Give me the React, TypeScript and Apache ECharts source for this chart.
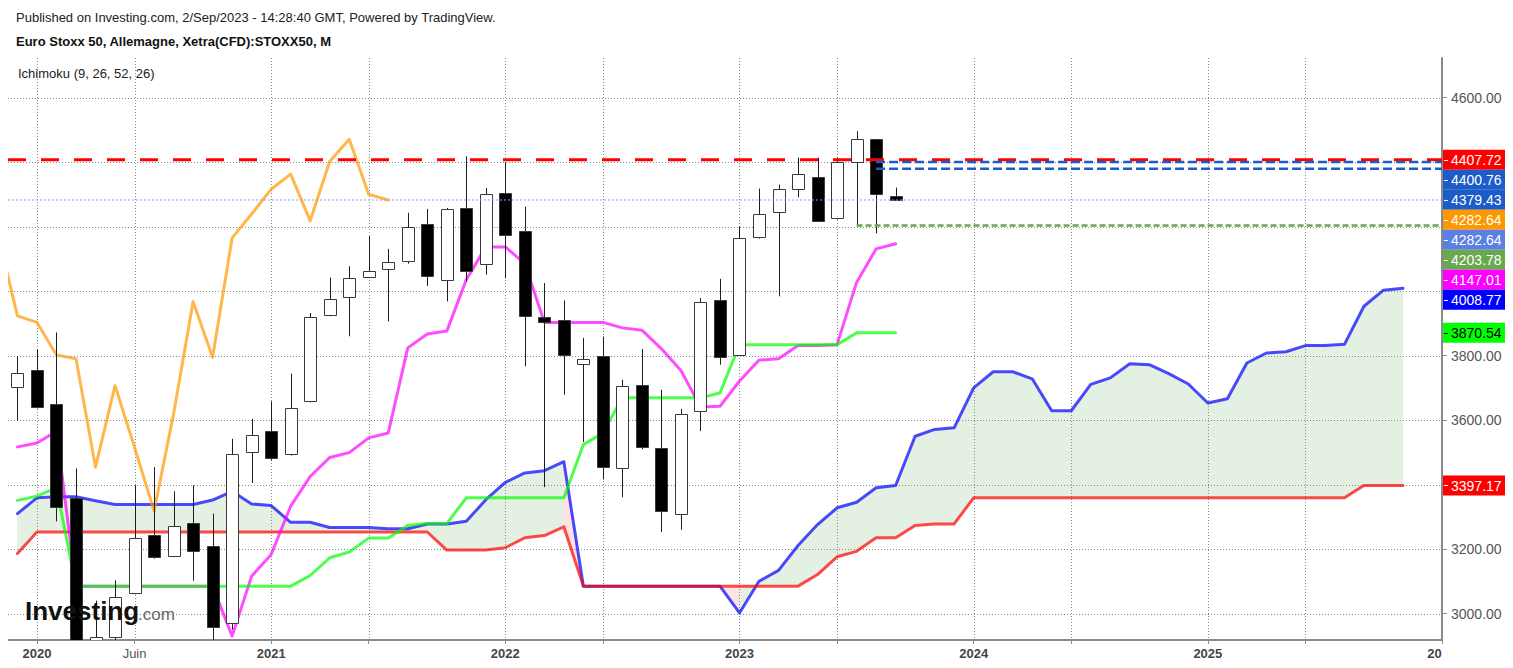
import React, { useEffect, useRef } from 'react';
import * as echarts from 'echarts';

// ---------- data (month index 0 = Dec 2019, 1 = Jan 2020, ... 73 = Jan 2026) ----------
const FIRST_MONTH = '2019-12';

const OPEN = [3704, 3755, 3650, 3357, 2787, 2928, 3064, 3243, 3180, 3281, 3209, 2971, 3502, 3567, 3494, 3660, 3926, 3983, 4044, 4068, 4094, 4207, 4036, 4258, 4083, 4305, 4185, 3921, 3910, 3774, 3800, 3450, 3708, 3514, 3308, 3629, 3971, 3803, 4168, 4246, 4316, 4355, 4226, 4402, 4471, 4296];
const HIGH = [3798, 3819, 3872, 3450, 3040, 3103, 3398, 3454, 3379, 3398, 3310, 3542, 3604, 3658, 3744, 3932, 4042, 4077, 4170, 4131, 4243, 4255, 4258, 4418, 4320, 4400, 4262, 4025, 3971, 3855, 3859, 3725, 3821, 3694, 3635, 3978, 4038, 4201, 4318, 4330, 4414, 4414, 4414, 4496, 4472, 4321];
const LOW = [3598, 3636, 3286, 2302, 2651, 2794, 3060, 3170, 3175, 3102, 2867, 2950, 3405, 3475, 3490, 3655, 3922, 3860, 4040, 3906, 4085, 4016, 3968, 4030, 4051, 4040, 3767, 3392, 3679, 3532, 3416, 3361, 3510, 3253, 3260, 3566, 3772, 3800, 4163, 3984, 4291, 4214, 4222, 4203, 4179, 4282];
const CLOSE = [3746, 3640, 3330, 2787, 2928, 3052, 3235, 3176, 3273, 3194, 2958, 3494, 3553, 3481, 3638, 3921, 3977, 4041, 4063, 4091, 4199, 4048, 4254, 4063, 4301, 4175, 3923, 3903, 3802, 3790, 3454, 3707, 3516, 3318, 3619, 3967, 3795, 4165, 4239, 4316, 4363, 4218, 4402, 4471, 4300, 4282.64];

// Ichimoku (9, 26, 52, 26) lines
const TENKAN_START = 0;
const TENKAN = [3517, 3529, 3565, 3085, 3085, 3085, 3085, 3085, 3085, 3085, 3085, 2930, 3116, 3183, 3333, 3425, 3484, 3499, 3545, 3560, 3824, 3867, 3876, 4035, 4137, 4137, 4085, 3903, 3903, 3903, 3903, 3886, 3879, 3821, 3754, 3641, 3643, 3721, 3786, 3790, 3831, 3831, 3834, 4027, 4131, 4147.01];
const KIJUN_START = 0;
const KIJUN = [3351, 3364, 3390, 3085, 3085, 3085, 3085, 3085, 3085, 3085, 3085, 3085, 3085, 3085, 3085, 3118, 3173, 3191, 3234, 3234, 3273, 3279, 3279, 3359, 3359, 3359, 3359, 3359, 3359, 3524, 3560, 3669, 3669, 3669, 3669, 3669, 3684, 3834, 3834, 3834, 3834, 3834, 3834, 3870.54, 3870.54, 3870.54];
const CHIKOU_START = -1;
const CHIKOU = [4175, 3923, 3903, 3802, 3790, 3454, 3707, 3516, 3318, 3619, 3967, 3795, 4165, 4239, 4316, 4363, 4218, 4402, 4471, 4300, 4282.64];
const SPAN_START = 0;
const SPAN_A = [3310, 3359, 3362, 3362, 3350, 3338, 3338, 3338, 3338, 3338, 3352, 3379, 3340, 3335, 3283, 3283, 3267, 3267, 3267, 3263, 3263, 3278, 3278, 3286, 3353, 3407, 3436, 3443, 3471, 3085, 3085, 3085, 3085, 3085, 3085, 3085, 3085, 3002, 3100, 3134, 3211, 3276, 3328, 3345, 3390, 3397, 3550, 3571, 3576, 3700, 3750, 3750, 3728, 3629, 3629, 3711, 3731, 3775, 3772, 3744, 3712, 3653, 3666, 3777, 3808, 3812, 3831, 3831, 3835, 3953, 4003, 4008.77];
const SPAN_B = [3186, 3253, 3253, 3253, 3253, 3253, 3253, 3253, 3253, 3253, 3253, 3253, 3253, 3253, 3253, 3253, 3253, 3253, 3253, 3253, 3253, 3253, 3197, 3197, 3197, 3204, 3235, 3242, 3269, 3085, 3085, 3085, 3085, 3085, 3085, 3085, 3085, 3085, 3085, 3085, 3085, 3121, 3176, 3193, 3235, 3235, 3273, 3278, 3278, 3359, 3359, 3359, 3359, 3359, 3359, 3359, 3359, 3359, 3359, 3359, 3359, 3359, 3359, 3359, 3359, 3359, 3359, 3359, 3359, 3397.17, 3397.17, 3397.17];

// horizontal levels
const LEVEL_VALUES = [4407.72, 4400.76, 4379.43, 4282.64, 4203.78];
const LEVEL_FROM = [-1, 44, 44, -1, 43]; // month index where the level starts (-1 = left edge)

// price tags on the right axis
const TAG_VALUES = [4407.72, 4400.76, 4379.43, 4282.64, 4282.64, 4203.78, 4147.01, 4008.77, 3870.54, 3397.17];

// axes
const X_TICKS = [1, 6, 13, 18, 25, 30, 37, 42, 49, 54, 61, 66, 73];
const X_TICK_LABELS = ['2020', 'Juin', '2021', '', '2022', '', '2023', '', '2024', '', '2025', '', '2026'];
const Y_TICKS = [3000, 3200, 3400, 3600, 3800, 4000, 4200, 4400, 4600];

// ---------- styles ----------
const FONT = '"Liberation Sans", Arial, Helvetica, sans-serif';
const X_MIN = -0.485;
const X_MAX = 73;
const Y_MIN = 2918;
const Y_MAX = 4723;
const LEVEL_STYLES = [
  { color: '#ff0000', width: 3, dash: [18, 15] },
  { color: '#1c5bc8', width: 2.5, dash: [9, 4] },
  { color: '#1c5bc8', width: 2.5, dash: [9, 4] },
  { color: '#89a4f2', width: 1, dash: [2, 2] },
  { color: '#6aa84f', width: 2.5, dash: [6, 3] },
];
const TAG_BG = ['#ff0000', '#1c5bc8', '#1c5bc8', '#ff9800', '#5b7fe3', '#6aa84f', '#ff00ff', '#0000ff', '#00ff00', '#ff0000'];
const TAG_FG = ['#fff', '#fff', '#fff', '#fff', '#fff', '#fff', '#fff', '#fff', '#000', '#fff'];

const seriesPoints = (arr: number[], start: number) => arr.map((v, k) => [start + k, v]);

function ichiLine(name: string, arr: number[], start: number, color: string, z: number) {
  return {
    name,
    type: 'line',
    data: seriesPoints(arr, start),
    symbol: 'none',
    silent: true,
    z,
    lineStyle: { color, width: 3, opacity: 0.7, cap: 'round', join: 'round' },
  };
}

export default function App() {
  const ref = useRef<HTMLDivElement>(null);

  useEffect(() => {
    const chart = echarts.init(ref.current as HTMLDivElement, null, { renderer: 'svg' });

    const candleData = OPEN.map((o, k) => [k, o, CLOSE[k], LOW[k], HIGH[k]]);
    const cloudData = SPAN_A.slice(0, -1).map((a, k) => [
      SPAN_START + k, a, SPAN_B[k], SPAN_START + k + 1, SPAN_A[k + 1], SPAN_B[k + 1],
    ]);

    const option: any = {
      animation: false,
      textStyle: { fontFamily: FONT },
      grid: { left: 0, top: 50, right: 64, bottom: 20, containLabel: false, outerBoundsMode: 'none' },
      xAxis: {
        type: 'value',
        min: X_MIN,
        max: X_MAX,
        position: 'bottom',
        axisLine: { show: true, onZero: false, lineStyle: { color: '#8a8a8a', width: 2 } },
        axisTick: { show: true, customValues: X_TICKS, length: 4, lineStyle: { color: '#8a8a8a' } },
        axisLabel: {
          show: true,
          customValues: X_TICKS,
          margin: 7,
          hideOverlap: false,
          formatter: (v: number) => {
            const r = Math.round(v);
            const k = X_TICKS.indexOf(r);
            const t = k >= 0 ? X_TICK_LABELS[k] : '';
            if (!t) return '';
            if (r === X_MAX) return `{cut|${t.slice(0, 2)}}`;
            return /^\d+$/.test(t) ? `{y|${t}}` : `{m|${t}}`;
          },
          rich: {
            y: { fontFamily: FONT, fontWeight: 'bold', fontSize: 13, color: '#444' },
            m: { fontFamily: FONT, fontSize: 13, color: '#555' },
            cut: { fontFamily: FONT, fontWeight: 'bold', fontSize: 13, color: '#444', padding: [0, 15, 0, 0] },
          },
        },
        splitLine: { show: false },
      },
      yAxis: {
        type: 'value',
        min: Y_MIN,
        max: Y_MAX,
        position: 'right',
        axisLine: { show: true, onZero: false, lineStyle: { color: '#8a8a8a', width: 2 } },
        axisTick: { show: true, customValues: Y_TICKS, length: 5, lineStyle: { color: '#8a8a8a' } },
        axisLabel: {
          customValues: Y_TICKS,
          margin: 9,
          color: '#555',
          fontSize: 14,
          fontFamily: FONT,
          formatter: (v: number) => v.toFixed(2),
        },
        splitLine: { show: false },
      },
      series: [
        // cloud fill
        {
          type: 'custom',
          silent: true,
          clip: true,
          z: 1,
          data: cloudData,
          encode: { x: [0, 3], y: [1, 2, 4, 5] },
          renderItem: (params: any, api: any) => {
            const i0 = api.value(0), a0 = api.value(1), b0 = api.value(2);
            const i1 = api.value(3), a1 = api.value(4), b1 = api.value(5);
            if (a0 === b0 && a1 === b1) return { type: 'group', children: [] };
            const pts = [api.coord([i0, a0]), api.coord([i1, a1]), api.coord([i1, b1]), api.coord([i0, b0])];
            const fill = a1 > b1 ? '#e3f0e2' : '#fce3e3';
            return { type: 'polygon', shape: { points: pts }, style: { fill, stroke: fill, lineWidth: 0.6 } };
          },
        },
        // horizontal grid lines
        {
          type: 'custom',
          silent: true,
          z: 2,
          data: Y_TICKS.map((v) => [X_MIN, v]),
          encode: { x: 0, y: 1 },
          renderItem: (params: any, api: any) => {
            const cs = params.coordSys;
            const y = Math.round(api.coord([api.value(0), api.value(1)])[1]) + 0.5;
            return {
              type: 'line',
              shape: { x1: cs.x, y1: y, x2: cs.x + cs.width, y2: y },
              style: { stroke: '#8c8c8c', lineWidth: 1, lineDash: [1, 2] },
            };
          },
        },
        // vertical grid lines
        {
          type: 'custom',
          silent: true,
          z: 2,
          data: X_TICKS.filter((t) => t < X_MAX).map((t) => [t, Y_MIN]),
          encode: { x: 0, y: 1 },
          renderItem: (params: any, api: any) => {
            const cs = params.coordSys;
            const x = Math.round(api.coord([api.value(0), api.value(1)])[0]) + 0.5;
            return {
              type: 'line',
              shape: { x1: x, y1: cs.y, x2: x, y2: cs.y + cs.height },
              style: { stroke: '#8c8c8c', lineWidth: 1, lineDash: [1, 2] },
            };
          },
        },
        ichiLine('Senkou A', SPAN_A, SPAN_START, '#0000ff', 3),
        ichiLine('Senkou B', SPAN_B, SPAN_START, '#ff0000', 3),
        ichiLine('Tenkan', TENKAN, TENKAN_START, '#ff00ff', 3),
        ichiLine('Kijun', KIJUN, KIJUN_START, '#00ff00', 3),
        ichiLine('Chikou', CHIKOU, CHIKOU_START, '#ff9800', 3),
        // candles
        {
          type: 'custom',
          silent: true,
          clip: true,
          z: 4,
          data: candleData,
          encode: { x: 0, y: [1, 2, 3, 4] },
          renderItem: (params: any, api: any) => {
            const i = api.value(0), o = api.value(1), c = api.value(2), l = api.value(3), h = api.value(4);
            const pO = api.coord([i, o]);
            const pC = api.coord([i, c]);
            const pL = api.coord([i, l]);
            const pH = api.coord([i, h]);
            const x = Math.round(pO[0]) + 0.5;
            const top = Math.round(Math.min(pO[1], pC[1])) + 0.5;
            const bot = Math.round(Math.max(pO[1], pC[1])) + 0.5;
            const up = c >= o;
            return {
              type: 'group',
              children: [
                { type: 'line', shape: { x1: x, y1: pH[1], x2: x, y2: pL[1] }, style: { stroke: '#1e1e1e', lineWidth: 1 } },
                {
                  type: 'rect',
                  shape: { x: x - 6, y: top, width: 12, height: Math.max(bot - top, 1) },
                  style: { fill: up ? '#ffffff' : '#000000', stroke: '#3a3a3a', lineWidth: 1 },
                },
              ],
            };
          },
        },
        // horizontal levels
        ...LEVEL_VALUES.map((v, k) => ({
          type: 'line',
          silent: true,
          symbol: 'none',
          z: 5,
          data: [[LEVEL_FROM[k] < 0 ? X_MIN : LEVEL_FROM[k], v], [X_MAX, v]],
          lineStyle: { color: LEVEL_STYLES[k].color, width: LEVEL_STYLES[k].width, type: LEVEL_STYLES[k].dash },
        })),
      ],
    };

    chart.setOption(option);

    // price tags stacked on the right axis
    const axisX = chart.convertToPixel({ xAxisIndex: 0 }, X_MAX) as number;
    const top = chart.convertToPixel({ yAxisIndex: 0 }, Y_MAX) as number;
    const W = (ref.current as HTMLDivElement).clientWidth;
    const H = (ref.current as HTMLDivElement).clientHeight;
    let prev = -1e9;
    const tagEls: any[] = [];
    const tagYs: number[] = [];
    TAG_VALUES.forEach((v, k) => {
      const y0 = chart.convertToPixel({ yAxisIndex: 0 }, v) as number;
      const y = Math.max(y0, prev + 20);
      prev = y;
      tagYs.push(y);
      tagEls.push({
        type: 'rect', z: 100, silent: true,
        shape: { x: axisX + 1, y: y - 10, width: W - 1 - (axisX + 1), height: 20 },
        style: { fill: TAG_BG[k] },
      });
      tagEls.push({
        type: 'line', z: 101, silent: true,
        shape: { x1: axisX + 2, y1: Math.round(y) + 0.5, x2: axisX + 6, y2: Math.round(y) + 0.5 },
        style: { stroke: TAG_FG[k], lineWidth: 1 },
      });
      tagEls.push({
        type: 'text', z: 101, silent: true,
        x: axisX + 9, y: y + 0.5,
        style: { text: v.toFixed(2), fill: TAG_FG[k], font: `14px ${FONT}`, align: 'left', verticalAlign: 'middle' },
      });
    });

    // axis labels hidden behind a price tag are not shown (as in the reference)
    const visibleYLabels = Y_TICKS.filter((v) => {
      const py = chart.convertToPixel({ yAxisIndex: 0 }, v) as number;
      return tagYs.every((ty) => Math.abs(ty - py) >= 17);
    });

    chart.setOption({
      yAxis: { axisLabel: { customValues: visibleYLabels } },
      graphic: [
        {
          type: 'text', silent: true, x: 8, y: 9,
          style: { text: 'Published on Investing.com, 2/Sep/2023 - 14:28:40 GMT, Powered by TradingView.', fill: '#222', font: `13px ${FONT}`, verticalAlign: 'middle' },
        },
        {
          type: 'text', silent: true, x: 8, y: 33,
          style: { text: 'Euro Stoxx 50, Allemagne, Xetra(CFD):STOXX50, M', fill: '#111', font: `bold 13px ${FONT}`, verticalAlign: 'middle' },
        },
        {
          type: 'text', silent: true, x: 10, y: 65, z: 50,
          style: { text: 'Ichimoku (9, 26, 52, 26)', fill: '#222', font: `13px ${FONT}`, verticalAlign: 'middle' },
        },
        {
          type: 'text', silent: true, x: 17, y: 603, z: 90,
          style: { text: 'Investing', fill: '#111', font: `bold 26px ${FONT}`, verticalAlign: 'middle' },
        },
        {
          type: 'text', silent: true, x: 130, y: 606, z: 90,
          style: { text: '.com', fill: '#666', font: `17px ${FONT}`, verticalAlign: 'middle' },
        },
        {
          type: 'line', silent: true, z: 100,
          shape: { x1: W - 0.5, y1: top, x2: W - 0.5, y2: H },
          style: { stroke: '#000', lineWidth: 1 },
        },
        ...tagEls,
      ],
    });

    return () => chart.dispose();
  }, []);

  return <div ref={ref} style={{ width: 1498, height: 652 }} />;
}
